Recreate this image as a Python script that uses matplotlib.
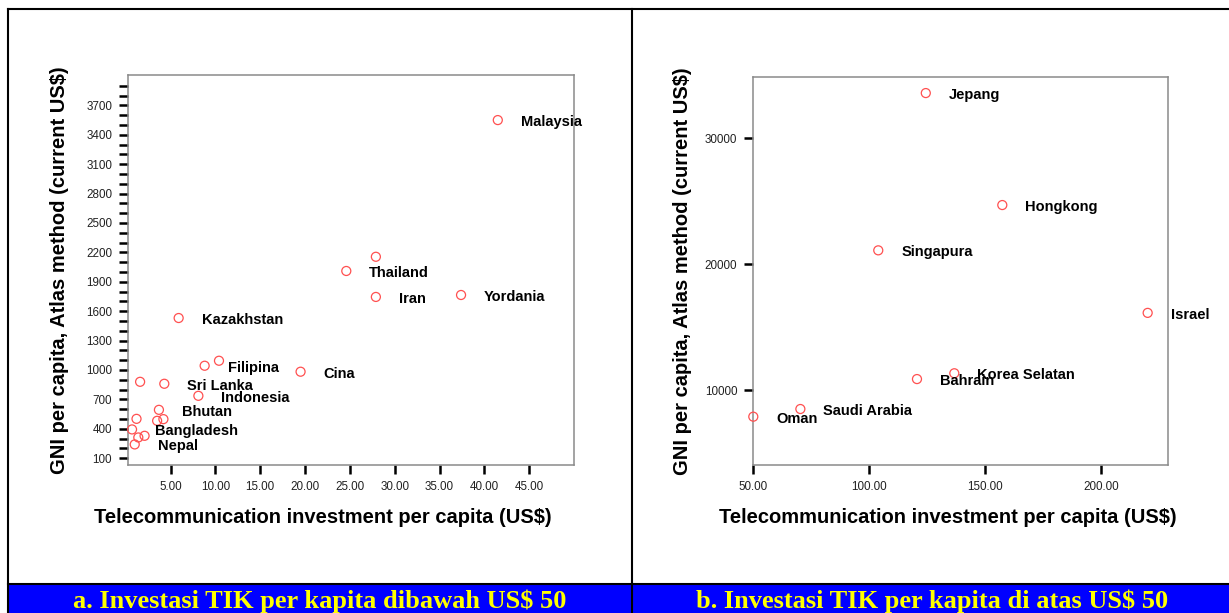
import matplotlib
matplotlib.use('Agg')
import matplotlib.pyplot as plt
from matplotlib.lines import Line2D
from matplotlib.patches import Rectangle

# panel a: investment below US$ 50
low_names = ['Malaysia', '', 'Thailand', 'Iran', 'Yordania', 'Kazakhstan',
             'Filipina', '', 'Cina', '', 'Sri Lanka', 'Indonesia', 'Bhutan',
             '', '', '', 'Bangladesh', '', '', 'Nepal']
low_x = [41.5, 27.9, 24.6, 27.9, 37.4, 5.9, 8.8, 10.4, 19.5, 1.6, 4.3, 8.1,
         3.7, 1.2, 3.5, 4.2, 0.7, 1.4, 2.1, 1.0]
low_y = [3550, 2155, 2010, 1745, 1765, 1530, 1043, 1094, 982, 879, 859, 736,
         593, 501, 481, 498, 393, 311, 328, 240]

# panel b: investment above US$ 50
high_names = ['Jepang', 'Hongkong', 'Singapura', 'Israel', 'Korea Selatan',
              'Bahrain', 'Saudi Arabia', 'Oman']
high_x = [124.4, 157.4, 103.9, 220.1, 136.7, 120.6, 70.3, 50.0]
high_y = [33600, 24700, 21100, 16130, 11330, 10870, 8490, 7880]

xlabel = 'Telecommunication investment per capita (US$)'
ylabel = 'GNI per capita, Atlas method (current US$)'
captions = ['a. Investasi TIK per kapita dibawah US$ 50',
            'b. Investasi TIK per kapita di atas US$ 50']

W, H = 1229, 613
plt.rcParams['font.family'] = ['Liberation Sans', 'DejaVu Sans']
fig = plt.figure(figsize=(W / 100, H / 100), dpi=100)


def box(x0, y0, x1, y1):
    # pixel box (top-left origin) -> figure fraction rect
    return [x0 / W, 1 - y1 / H, (x1 - x0) / W, (y1 - y0) / H]


def style(ax):
    for s in ax.spines.values():
        s.set_color('#8a8a8a')
        s.set_linewidth(1.1)
    ax.tick_params(which='both', direction='out', length=6.5, width=1.8,
                   color='black', labelsize=8.4, labelcolor='#222222', pad=5)


def draw(ax, names, xs, ys):
    ax.scatter(xs, ys, s=42, facecolors='none', edgecolors='#ff5050',
               linewidths=0.9, clip_on=False, zorder=3)
    for n, x, y in zip(names, xs, ys):
        if n:
            ax.annotate(n, (x, y), xytext=(23, -2), textcoords='offset pixels',
                        ha='left', va='center', fontsize=10.5,
                        fontweight='bold', annotation_clip=False, zorder=4)


ax1 = fig.add_axes(box(128, 75, 574, 465))
style(ax1)
draw(ax1, low_names, low_x, low_y)
ax1.set_xlim(0.25, 50)
ax1.set_ylim(30, 4010)
ax1.set_xticks(range(5, 50, 5))
ax1.set_xticklabels(['%.2f' % v for v in range(5, 50, 5)])
ax1.set_yticks(range(100, 3701, 300))
ax1.set_yticks(range(100, 4000, 100), minor=True)
ax1.set_xlabel(xlabel, fontsize=14.5, fontweight='bold')
ax1.set_ylabel(ylabel, fontsize=14.5, fontweight='bold')
ax1.xaxis.set_label_coords(0.437, -0.110)
ax1.yaxis.set_label_coords(-0.132, 0.5)

ax2 = fig.add_axes(box(753.3, 76.7, 1168.3, 465))
style(ax2)
draw(ax2, high_names, high_x, high_y)
ax2.set_xlim(50, 229)
ax2.set_ylim(4040, 34900)
ax2.set_xticks([50, 100, 150, 200])
ax2.set_xticklabels(['%.2f' % v for v in [50, 100, 150, 200]])
ax2.set_yticks([10000, 20000, 30000])
ax2.set_xlabel(xlabel, fontsize=14.5, fontweight='bold')
ax2.set_ylabel(ylabel, fontsize=14.5, fontweight='bold')
ax2.xaxis.set_label_coords(0.469, -0.110)
ax2.yaxis.set_label_coords(-0.148, 0.5)

# table frame and caption band
fig.add_artist(Rectangle((8 / W, 0), 1 - 8 / W, 1 - 585 / H,
                         transform=fig.transFigure, color='#0000ff', lw=0))
for (x0, y0, x1, y1) in [(8, 8.5, 1229, 8.5), (8, 8.5, 8, 613),
                         (632.3, 8.5, 632.3, 613), (8, 584, 1229, 584)]:
    fig.add_artist(Line2D([x0 / W, x1 / W], [1 - y0 / H, 1 - y1 / H],
                          transform=fig.transFigure, color='black', lw=1.5))
for cx, txt in zip([320, 932], captions):
    fig.text(cx / W, 1 - 608 / H, txt, ha='center', va='baseline',
             fontsize=19, fontweight='bold', color='#ffff00',
             family=['Liberation Serif', 'DejaVu Serif'])

fig.savefig('out.png', dpi=100)
